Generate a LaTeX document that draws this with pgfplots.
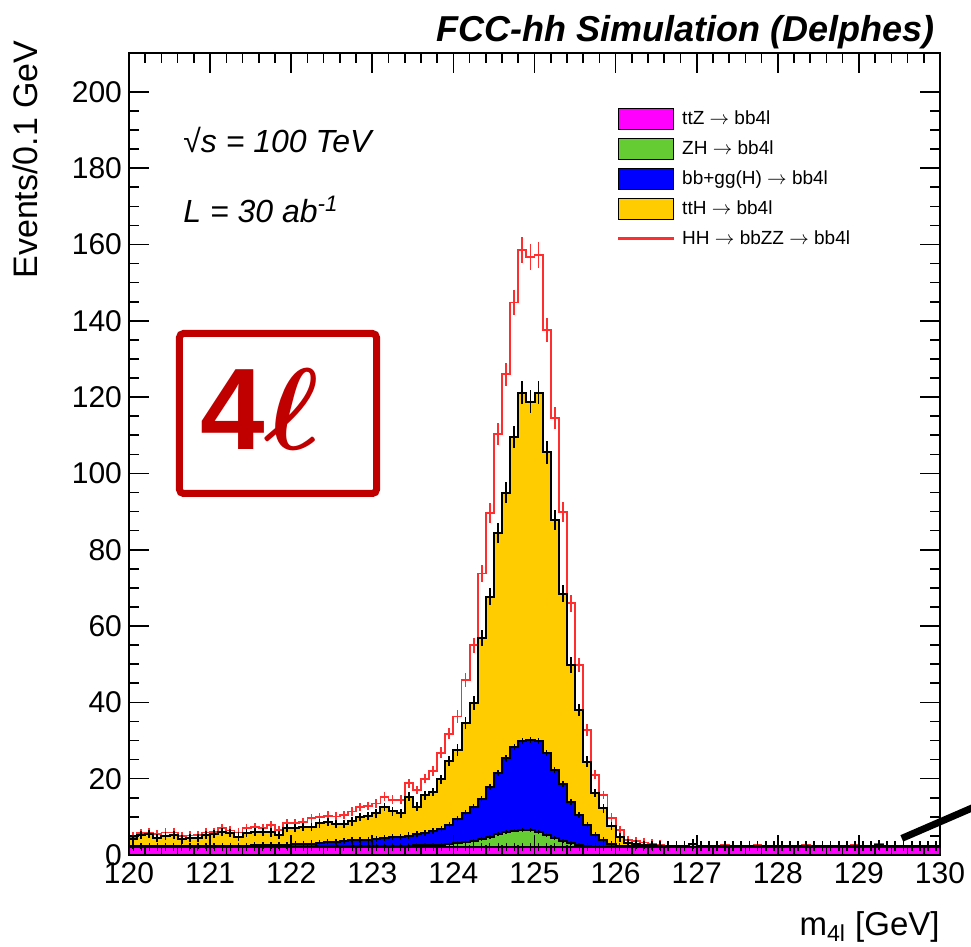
\RequirePackage{fix-cm}
\documentclass[border=0pt]{standalone}
\usepackage{fontspec}
\setmainfont{Liberation Sans}
\usepackage{amsmath}
\usepackage{pgfplots}
\pgfplotsset{compat=1.18}
\usepackage{pgfplotstable}

\definecolor{tthcol}{RGB}{255,204,0}
\definecolor{bbcol}{RGB}{0,0,255}
\definecolor{zhcol}{RGB}{102,204,51}
\definecolor{ttzcol}{RGB}{255,0,255}
\definecolor{hhcol}{RGB}{255,45,45}
\definecolor{boxred}{RGB}{192,0,0}
\definecolor{stroke}{RGB}{12,40,34}

\pgfplotsset{
  histbox/.style={legend image code/.code={\draw[##1] (0pt,-5.25pt) rectangle (27.5pt,5.25pt);}},
  histline/.style={legend image code/.code={\fill[hhcol] (0pt,0.1pt) rectangle (27.5pt,1.0pt);}},
  histarea/.style={const plot, mark=none, draw=none, forget plot},
  histedge/.style={const plot, mark=none, draw=black, line width=1pt, forget plot},
  errs/.style={draw=none, mark=none, forget plot},
}

% bin left edge, stacked tops (ttZ, +ZH, +bb, +ttH), HH total, errors
\pgfplotstableread{
x ttz zh bb tot hh etot ehh
120.0 2.1 2.15 2.25 4.1 4.8 1.1 1.1
120.1 2.1 2.15 2.25 5.3 5.7 1.1 1.1
120.2 2.1 2.15 2.25 5.5 5.9 1.1 1.1
120.3 2.1 2.15 2.3 4.5 5.5 1.1 1.1
120.4 2.1 2.15 2.3 5.0 5.9 1.1 1.1
120.5 2.1 2.15 2.3 5.3 5.9 1.1 1.1
120.6 2.1 2.15 2.3 4.1 5.0 1.1 1.1
120.7 2.1 2.15 2.3 4.4 5.1 1.1 1.1
120.8 2.1 2.15 2.35 4.4 5.3 1.1 1.1
120.9 2.1 2.15 2.35 5.3 5.9 1.1 1.1
121.0 2.1 2.15 2.35 5.5 6.1 1.1 1.1
121.1 2.1 2.15 2.4 6.1 7.0 1.1 1.1
121.2 2.1 2.15 2.4 5.7 6.4 1.1 1.1
121.3 2.1 2.15 2.45 4.8 5.9 1.1 1.1
121.4 2.1 2.15 2.45 5.7 7.0 1.1 1.1
121.5 2.1 2.15 2.5 6.1 7.4 1.1 1.1
121.6 2.1 2.2 2.5 6.1 7.0 1.1 1.1
121.7 2.1 2.2 2.6 5.9 7.9 1.1 1.1
121.8 2.1 2.2 2.6 5.3 6.5 1.1 1.1
121.9 2.1 2.2 2.7 7.0 8.3 1.1 1.1
122.0 2.1 2.2 2.8 7.0 8.3 1.1 1.1
122.1 2.1 2.2 2.9 7.4 8.7 1.1 1.1
122.2 2.1 2.2 3.0 7.3 9.6 1.1 1.1
122.3 2.1 2.25 3.1 8.3 10.0 1.1 1.1
122.4 2.1 2.25 3.3 8.6 10.3 1.1 1.1
122.5 2.1 2.25 3.4 8.1 10.1 1.1 1.1
122.6 2.1 2.25 3.6 8.1 10.5 1.1 1.1
122.7 2.1 2.25 3.8 8.8 11.4 1.1 1.1
122.8 2.1 2.3 3.9 10.0 12.5 1.1 1.1
122.9 2.1 2.3 4.0 10.2 12.8 1.1 1.1
123.0 2.1 2.35 4.2 10.9 13.5 1.1 1.1
123.1 2.1 2.35 4.4 12.5 15.3 1.1 1.1
123.2 2.1 2.4 4.6 11.4 14.5 1.1 1.1
123.3 2.1 2.4 4.8 10.9 14.5 1.1 1.1
123.4 2.1 2.45 5.1 15.3 18.8 1.1 1.2
123.5 2.1 2.5 5.4 12.7 17.1 1.1 1.1
123.6 2.1 2.55 5.8 15.6 20.0 1.1 1.2
123.7 2.1 2.6 6.2 16.5 22.0 1.1 1.3
123.8 2.1 2.7 6.8 19.8 26.8 1.2 1.4
123.9 2.1 2.9 7.8 24.6 31.8 1.4 1.5
124.0 2.1 3.1 9.4 27.5 36.3 1.5 1.6
124.1 2.1 3.4 10.9 34.6 45.9 1.6 1.8
124.2 2.1 3.7 12.5 39.8 55.0 1.8 2.0
124.3 2.1 4.2 14.6 56.8 73.8 2.1 2.3
124.4 2.1 4.8 17.9 67.7 89.6 2.3 2.6
124.5 2.1 5.4 21.4 84.3 110.3 2.6 2.8
124.6 2.1 6.0 25.3 95.0 126.0 2.7 3.0
124.7 2.1 6.4 28.4 109.6 144.8 2.9 3.2
124.8 2.1 6.6 29.9 121.2 158.6 3.1 3.4
124.9 2.1 6.5 30.1 118.8 156.8 3.0 3.4
125.0 2.1 6.1 29.8 121.2 157.3 3.1 3.4
125.1 2.1 5.3 26.7 105.5 137.6 2.9 3.2
125.2 2.1 4.5 22.3 87.8 114.5 2.6 2.9
125.3 2.1 3.7 18.5 68.5 90.0 2.3 2.6
125.4 2.1 3.1 14.0 49.8 66.0 2.0 2.2
125.5 2.1 2.6 10.5 38.0 49.8 1.7 1.9
125.6 2.1 2.3 7.9 24.5 32.8 1.4 1.5
125.7 2.1 2.2 5.2 16.2 21.0 1.1 1.2
125.8 2.1 2.15 3.9 12.2 15.8 1.1 1.1
125.9 2.1 2.15 2.8 7.6 9.8 1.1 1.1
126.0 2.1 2.15 2.35 4.6 6.6 1.1 1.1
126.1 2.1 2.15 2.3 3.1 4.0 1.1 1.1
126.2 2.1 2.15 2.25 2.8 3.6 1.1 1.1
126.3 2.1 2.15 2.25 2.6 3.3 1.1 1.1
126.4 2.1 2.15 2.25 2.5 3.0 1.1 1.1
126.5 2.1 2.15 2.25 2.45 2.7 1.1 1.1
126.6 2.1 2.15 2.2 2.35 2.5 1.3 1.2
126.7 2.1 2.15 2.2 2.3 2.4 1.3 1.2
126.8 2.1 2.15 2.2 2.35 2.45 1.3 1.2
126.9 2.1 2.15 2.2 2.8 2.9 1.3 1.2
127.0 2.1 2.15 2.2 2.35 2.45 1.3 1.2
127.1 2.1 2.15 2.2 2.3 2.4 1.3 1.2
127.2 2.1 2.15 2.2 2.35 2.45 1.3 1.2
127.3 2.1 2.15 2.2 2.45 2.55 1.3 1.2
127.4 2.1 2.15 2.2 2.3 2.4 1.3 1.2
127.5 2.1 2.15 2.2 2.35 2.45 1.3 1.2
127.6 2.1 2.15 2.2 2.3 2.4 1.3 1.2
127.7 2.1 2.15 2.2 2.45 2.55 1.3 1.2
127.8 2.1 2.15 2.2 2.35 2.45 1.3 1.2
127.9 2.1 2.15 2.2 2.3 2.4 1.3 1.2
128.0 2.1 2.15 2.2 2.35 2.45 1.3 1.2
128.1 2.1 2.15 2.2 2.3 2.4 1.3 1.2
128.2 2.1 2.15 2.2 2.35 2.45 1.3 1.2
128.3 2.1 2.15 2.2 2.45 2.55 1.3 1.2
128.4 2.1 2.15 2.2 2.3 2.4 1.3 1.2
128.5 2.1 2.15 2.2 2.35 2.45 1.3 1.2
128.6 2.1 2.15 2.2 2.3 2.4 1.3 1.2
128.7 2.1 2.15 2.2 2.35 2.45 1.3 1.2
128.8 2.1 2.15 2.2 2.3 2.4 1.3 1.2
128.9 2.1 2.15 2.2 2.45 2.55 1.3 1.2
129.0 2.1 2.15 2.2 2.35 2.45 1.3 1.2
129.1 2.1 2.15 2.2 2.3 2.4 1.3 1.2
129.2 2.1 2.15 2.2 2.7 2.8 1.3 1.2
129.3 2.1 2.15 2.2 2.35 2.45 1.3 1.2
129.4 2.1 2.15 2.2 2.3 2.4 1.3 1.2
129.5 2.1 2.15 2.2 2.35 2.45 1.3 1.2
129.6 2.1 2.15 2.2 2.3 2.4 1.3 1.2
129.7 2.1 2.15 2.2 2.35 2.45 1.3 1.2
129.8 2.1 2.15 2.2 2.3 2.4 1.3 1.2
129.9 2.1 2.15 2.2 2.35 2.45 1.3 1.2
130.0 2.1 2.15 2.2 2.35 2.45 1.3 1.2
}\hist

\begin{document}
\begin{tikzpicture}
\path[use as bounding box] (-64.5pt,-46pt) rectangle (421pt,427.5pt);
\begin{axis}[
  scale only axis, width=405.5pt, height=401pt,
  xmin=120, xmax=130, ymin=0, ymax=210.2,
  xtick={120,...,130}, ytick={0,20,...,200},
  minor x tick num=4, minor y tick num=3,
  major tick length=10pt, minor tick length=5pt,
  tick style={black, line width=0.8pt},
  axis line style={line width=1pt},
  axis on top,
  tick label style={font=\fontsize{15}{18}\selectfont},
  /pgf/number format/assume math mode=true,
  every axis y label/.style={at={(axis description cs:-0.1134,1.0162)}, rotate=90, anchor=base east, inner sep=0pt, font=\fontsize{17}{20}\selectfont},
  every axis x label/.style={at={(axis description cs:1,-0.101)}, anchor=base east, inner sep=0pt, font=\fontsize{16.5}{20}\selectfont},
  ylabel={Events/0.1 GeV},
  xlabel={m\textsubscript{4l} [GeV]},
  legend style={at={(0.603,0.9318)}, anchor=north west, draw=none, fill=none, inner sep=0pt, outer sep=0pt, row sep=3.5pt,
    font=\fontsize{9.5}{11}\selectfont, nodes={inner xsep=4pt, inner ysep=0.5pt, text height=8pt, text depth=2.5pt}},
  legend cell align=left,
]
\addlegendimage{histbox, fill=ttzcol, draw=black, line width=0.6pt}
\addlegendentry{ttZ $\rightarrow$ bb4l}
\addlegendimage{histbox, fill=zhcol, draw=black, line width=0.6pt}
\addlegendentry{ZH $\rightarrow$ bb4l}
\addlegendimage{histbox, fill=bbcol, draw=black, line width=0.6pt}
\addlegendentry{bb+gg(H) $\rightarrow$ bb4l}
\addlegendimage{histbox, fill=tthcol, draw=black, line width=0.6pt}
\addlegendentry{ttH $\rightarrow$ bb4l}
\addlegendimage{histline}
\addlegendentry{HH $\rightarrow$ bbZZ $\rightarrow$ bb4l}

% signal on top of the stack
\addplot[const plot, mark=none, draw=hhcol, line width=0.9pt, forget plot] table[x=x, y=hh] {\hist};
\addplot[errs, error bars/.cd, y dir=both, y explicit, error mark=none,
  error bar style={draw=hhcol, line width=0.9pt}] table[x expr=\thisrow{x}+0.05, y=hh, y error=ehh] {\hist};

% stacked backgrounds: fill, then outline
\addplot[histarea, fill=tthcol] table[x=x, y=tot] {\hist} \closedcycle;
\addplot[histedge] table[x=x, y=tot] {\hist};
\addplot[histarea, fill=bbcol] table[x=x, y=bb] {\hist} \closedcycle;
\addplot[histedge] table[x=x, y=bb] {\hist};
\addplot[histarea, fill=zhcol] table[x=x, y=zh] {\hist} \closedcycle;
\addplot[histedge] table[x=x, y=zh] {\hist};
\addplot[histarea, fill=ttzcol] table[x=x, y=ttz] {\hist} \closedcycle;
\addplot[histedge] table[x=x, y=ttz] {\hist};

% error bars
\addplot[errs, error bars/.cd, y dir=both, y explicit, error mark=none,
  error bar style={draw=black, line width=0.9pt}] table[x expr=\thisrow{x}+0.05, y=tot, y error=etot] {\hist};
\addplot[errs, error bars/.cd, y dir=both, y fixed=0.8, error mark=none,
  error bar style={draw=black, line width=0.7pt}] table[x expr=\thisrow{x}+0.05, y=bb] {\hist};
\addplot[errs, error bars/.cd, y dir=both, y fixed=0.5, error mark=none,
  error bar style={draw=black, line width=0.7pt}] table[x expr=\thisrow{x}+0.05, y=zh] {\hist};
\addplot[errs, error bars/.cd, y dir=both, y fixed=1.0, error mark=none,
  error bar style={draw=black, line width=0.5pt}] table[x expr=\thisrow{x}+0.05, y=ttz] {\hist};
\end{axis}

\node[anchor=base east, inner sep=0pt, font=\fontsize{18}{20}\selectfont\bfseries\itshape] at (403pt,406.5pt) {FCC-hh Simulation (Delphes)};
\node[anchor=base west, inner sep=0pt, font=\fontsize{16}{18}\selectfont\itshape] at (27pt,351pt) {√s = 100 TeV};
\node[anchor=base west, inner sep=0pt, font=\fontsize{16}{18}\selectfont\itshape] at (27pt,316pt) {L = 30 ab\textsuperscript{-1}};
\draw[boxred, line width=3.5pt, rounded corners=2pt] (25.25pt,180.75pt) rectangle (123.75pt,260.75pt);
\node[anchor=base west, inner sep=0pt, text=boxred] at (35.5pt,202.5pt) {\fontsize{58}{60}\selectfont\bfseries 4$\boldsymbol{\ell}$};
\draw[stroke, line width=3.5pt] (386.4pt,8.3pt) -- (440pt,31.5pt);
\end{tikzpicture}
\end{document}
